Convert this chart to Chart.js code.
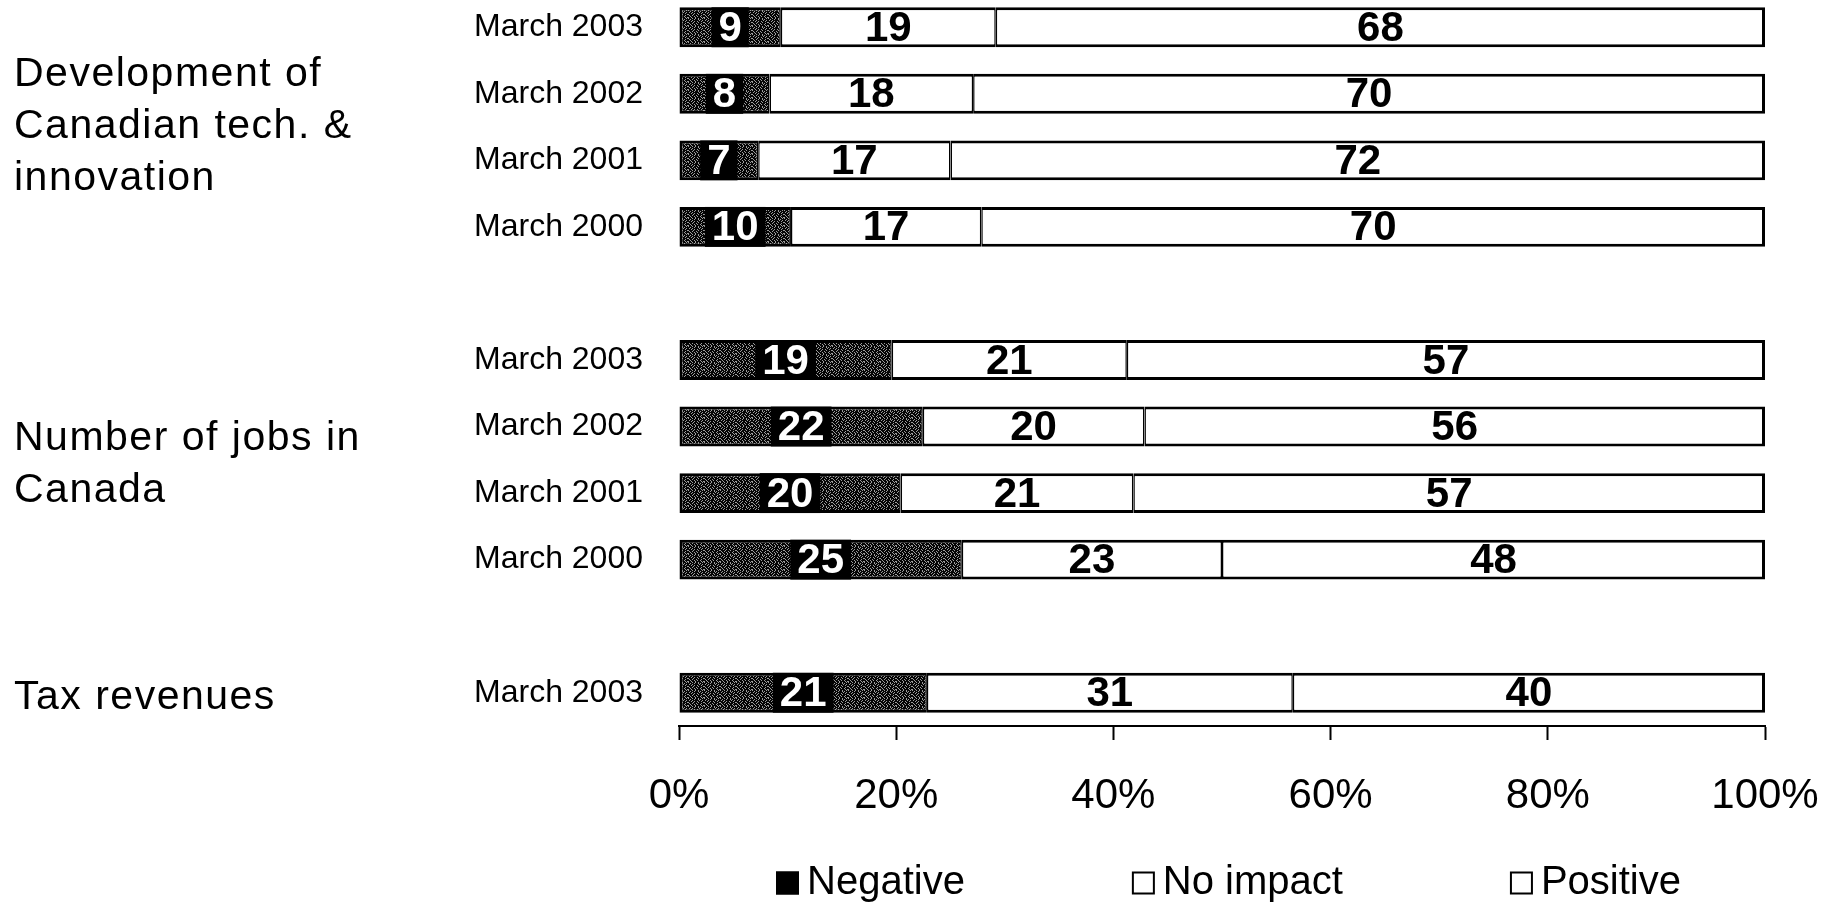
<!DOCTYPE html>
<html>
<head>
<meta charset="utf-8">
<script src="https://cdn.jsdelivr.net/npm/chart.js@4.4.1/dist/chart.umd.min.js"></script>
<style>
  html, body { margin: 0; padding: 0; background: #fff; overflow: hidden; }
  #wrap { position: absolute; left: 0; top: -6px; width: 1831px; height: 908px; }
</style>
</head>
<body>
<div id="wrap"><canvas id="chart"></canvas></div>
<script>
// rows top to bottom, '' = spacer between groups
const rowLabels = ['March 2003', 'March 2002', 'March 2001', 'March 2000', '',
  'March 2003', 'March 2002', 'March 2001', 'March 2000', '', 'March 2003'];
const negative = [9, 8, 7, 10, null, 19, 22, 20, 25, null, 21];
const noImpact = [19, 18, 17, 17, null, 21, 20, 21, 23, null, 31];
const positive = [68, 70, 72, 70, null, 57, 56, 57, 48, null, 40];
const seriesNames = ['Negative', 'No impact', 'Positive'];
const groupLines = [
  ['Development of', 'Canadian tech. &', 'innovation'],
  ['Number of jobs in', 'Canada'],
  ['Tax revenues']
];
const groupRows = [[0, 3], [5, 8], [10, 10]];
const xTicks = [0, 20, 40, 60, 80, 100];

const rawSeries = [negative, noImpact, positive];
const FONT = '"Liberation Sans", Arial, Helvetica, sans-serif';

// bars are drawn as 100% stacked
const rowTotal = rowLabels.map((_, i) => negative[i] == null ? null : negative[i] + noImpact[i] + positive[i]);
const share = arr => arr.map((v, i) => v == null ? null : v / rowTotal[i] * 100);

// grainy dark fill like the scanned original
const speckRows = [
  '1000100100100010',
  '0010001000101000',
  '0100100000010010',
  '0001001001000100',
  '1000010000100001',
  '0100100010000100',
  '0010001001001000',
  '1001000100000101'
];
function speckle() {
  const c = document.createElement('canvas');
  c.width = 16; c.height = 8;
  const g = c.getContext('2d');
  g.fillStyle = '#050505';
  g.fillRect(0, 0, 16, 8);
  g.fillStyle = '#9c9c9c';
  speckRows.forEach((row, y) => [...row].forEach((b, x) => {
    if (b === '1') g.fillRect(x, y, 1, 1);
  }));
  return g.createPattern(c, 'repeat');
}

const valueLabels = {
  id: 'valueLabels',
  afterDatasetsDraw(chart) {
    const ctx = chart.ctx;
    ctx.save();
    ctx.font = 'bold 42px ' + FONT;
    ctx.textAlign = 'center';
    ctx.textBaseline = 'middle';
    chart.data.datasets.forEach((ds, di) => {
      chart.getDatasetMeta(di).data.forEach((bar, i) => {
        const v = rawSeries[di][i];
        if (v == null) return;
        const { x, y, base, height } = bar.getProps(['x', 'y', 'base', 'height'], true);
        const cx = (x + base) / 2;
        const text = String(v);
        if (di === 0) {
          const w = ctx.measureText(text).width + 14;
          ctx.fillStyle = '#000';
          ctx.fillRect(cx - w / 2, y - height / 2, w, height);
          ctx.fillStyle = '#fff';
        } else {
          ctx.fillStyle = '#000';
        }
        ctx.fillText(text, cx, y + 2);
      });
    });
    ctx.restore();
  }
};

const groupTitles = {
  id: 'groupTitles',
  afterDraw(chart) {
    const ctx = chart.ctx;
    const yScale = chart.scales.y;
    ctx.save();
    ctx.font = '41px ' + FONT;
    ctx.letterSpacing = '1.5px';
    ctx.fillStyle = '#000';
    ctx.textAlign = 'left';
    ctx.textBaseline = 'middle';
    groupLines.forEach((lines, g) => {
      const [a, b] = groupRows[g];
      const mid = (yScale.getPixelForValue(a) + yScale.getPixelForValue(b)) / 2 + (g === 0 ? 0 : 5);
      lines.forEach((t, k) => ctx.fillText(t, 14, mid + (k - (lines.length - 1) / 2) * 52));
    });
    ctx.restore();
  }
};

const legendRow = {
  id: 'legendRow',
  afterDraw(chart) {
    const ctx = chart.ctx;
    const y = chart.height - 19;
    const box = 23;
    let x = 776;
    ctx.save();
    ctx.font = '40px ' + FONT;
    ctx.textBaseline = 'middle';
    chart.data.datasets.forEach((ds, i) => {
      ctx.fillStyle = i === 0 ? '#000' : '#fff';
      ctx.fillRect(x, y - box / 2, box, box);
      ctx.lineWidth = 2;
      ctx.strokeStyle = '#000';
      ctx.strokeRect(x + 1, y - box / 2 + 1, box - 2, box - 2);
      ctx.fillStyle = '#000';
      ctx.fillText(ds.label, x + box + 8, y);
      x += box + 8 + ctx.measureText(ds.label).width + 167;
    });
    ctx.restore();
  }
};

const ctx = document.getElementById('chart').getContext('2d');
const myChart = new Chart(ctx, {
  type: 'bar',
  data: {
    labels: rowLabels,
    datasets: [
      {
        label: seriesNames[0],
        data: share(negative),
        backgroundColor: speckle(),
        borderColor: '#000',
        borderWidth: { top: 3, bottom: 3, left: 3, right: 1.5 },
        borderSkipped: false
      },
      {
        label: seriesNames[1],
        data: share(noImpact),
        backgroundColor: '#fff',
        borderColor: '#000',
        borderWidth: { top: 3, bottom: 3, left: 1.5, right: 1.5 },
        borderSkipped: false
      },
      {
        label: seriesNames[2],
        data: share(positive),
        backgroundColor: '#fff',
        borderColor: '#000',
        borderWidth: { top: 3, bottom: 3, left: 1.5, right: 3 },
        borderSkipped: false
      }
    ]
  },
  options: {
    indexAxis: 'y',
    responsive: true,
    maintainAspectRatio: false,
    animation: false,
    layout: { padding: { left: 0, right: 66, top: 0, bottom: 76 } },
    datasets: { bar: { barPercentage: 0.6, categoryPercentage: 1 } },
    plugins: {
      legend: { display: false },
      tooltip: { enabled: false }
    },
    scales: {
      x: {
        stacked: true,
        min: 0,
        max: 100,
        afterBuildTicks: s => { s.ticks = xTicks.map(v => ({ value: v })); },
        afterFit: s => { s.height = 100; s.paddingLeft = 0; s.paddingRight = 0; },
        grid: { drawOnChartArea: false, drawTicks: true, tickLength: 14, tickWidth: 2, tickColor: '#000' },
        border: { display: true, color: '#000', width: 2 },
        ticks: {
          color: '#000',
          font: { family: FONT, size: 42 },
          padding: 31,
          maxRotation: 0,
          callback: v => v + '%'
        }
      },
      y: {
        stacked: true,
        afterFit: s => { s.width = 679; s.paddingTop = 0; s.paddingBottom = 0; },
        grid: { display: false, drawTicks: false },
        border: { display: false },
        ticks: {
          color: '#000',
          font: { family: FONT, size: 32 },
          padding: 36,
          autoSkip: false
        }
      }
    }
  },
  plugins: [valueLabels, groupTitles, legendRow]
});
</script>
</body>
</html>
